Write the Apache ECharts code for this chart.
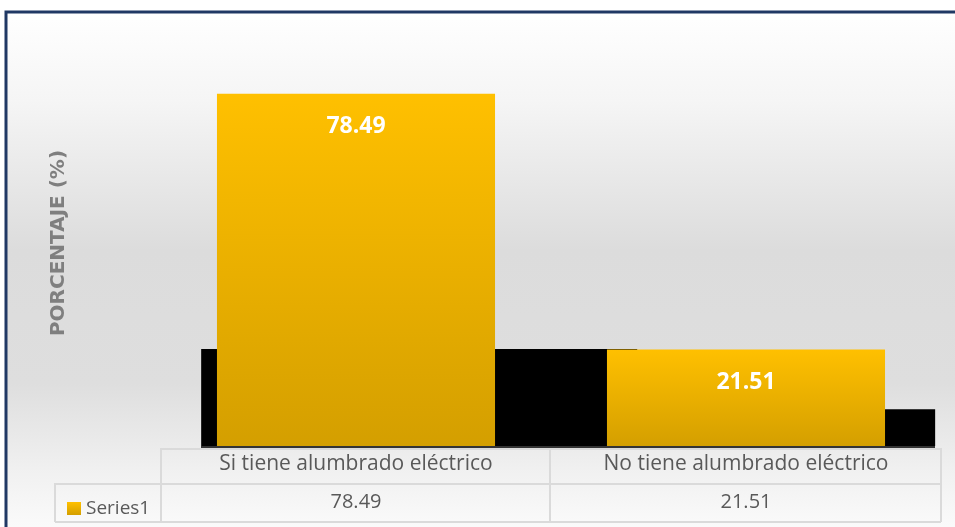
<!DOCTYPE html>
<html>
<head>
<meta charset="utf-8">
<script src="https://cdn.jsdelivr.net/npm/echarts@6/dist/echarts.min.js"></script>
<style>
  html, body { margin: 0; padding: 0; background: #fff; }
  #chart { width: 955px; height: 527px; }
</style>
</head>
<body>
<div id="chart"></div>
<script>
const categories = ['Si tiene alumbrado eléctrico', 'No tiene alumbrado eléctrico']
const values = [78.49, 21.51]
const seriesName = 'Series1'
const axisTitle = 'PORCENTAJE (%)'
// black depth blocks behind the bars: [start, end] in category units, height in %
const blockStart = [0.103, 1.854]
const blockEnd = [1.221, 1.985]
const blockHeight = [21.6, 8.2]

const fontFamily = '"Open Sans", Lato, sans-serif'
const tableColor = '#dadada'
const barGradient = new echarts.graphic.LinearGradient(0, 0, 0, 1, [
  { offset: 0, color: '#ffc000' },
  { offset: 1, color: '#d49f00' }
])

const chart = echarts.init(document.getElementById('chart'))

chart.setOption({
  animation: false,
  grid: { left: 161, right: 14, top: 87, bottom: 81 },
  legend: {
    data: [seriesName],
    left: 62,
    top: 494,
    icon: 'rect',
    itemWidth: 14,
    itemHeight: 13,
    itemGap: 6,
    textStyle: { color: '#595959', fontSize: 19, fontFamily }
  },
  xAxis: [{
    type: 'category',
    data: categories,
    axisLine: { show: false },
    axisTick: { show: false },
    axisLabel: { color: '#595959', fontSize: 21, fontFamily, margin: 8 }
  }, {
    type: 'category',
    position: 'bottom',
    offset: 38,
    data: values.map(v => v.toFixed(2)),
    axisLine: { show: false },
    axisTick: { show: false },
    axisLabel: { color: '#595959', fontSize: 20, fontFamily, margin: 8 }
  }, {
    type: 'value',
    min: 0,
    max: categories.length,
    show: false
  }],
  yAxis: {
    type: 'value',
    min: 0,
    max: 80,
    show: false
  },
  graphic: [{
    type: 'rect',
    z: -10,
    shape: { x: 6, y: 12, width: 1000, height: 530 },
    style: {
      fill: new echarts.graphic.LinearGradient(0, 0, 0, 1, [
        { offset: 0, color: '#ffffff' },
        { offset: 0.17, color: '#f5f5f5' },
        { offset: 0.45, color: '#dcdcdc' },
        { offset: 0.7, color: '#dedede' },
        { offset: 0.86, color: '#f0f0f0' },
        { offset: 1, color: '#fdfdfd' }
      ]),
      stroke: '#203864',
      lineWidth: 3
    }
  }, {
    type: 'text',
    x: 59,
    y: 243,
    rotation: Math.PI / 2,
    style: {
      text: axisTitle,
      fill: '#7f7f7f',
      font: 'bold 20px "DejaVu Sans", sans-serif',
      textAlign: 'center',
      textVerticalAlign: 'middle'
    }
  }, {
    type: 'line',
    z: 10,
    shape: { x1: 201, y1: 447, x2: 935, y2: 447 },
    style: { stroke: '#333', lineWidth: 2 }
  }, {
    type: 'polyline',
    z: 5,
    shape: { points: [[161, 522], [161, 449], [941, 449], [941, 522]] },
    style: { stroke: tableColor, lineWidth: 2, fill: null }
  }, {
    type: 'polyline',
    z: 5,
    shape: { points: [[55, 522], [55, 484], [941, 484]] },
    style: { stroke: tableColor, lineWidth: 2, fill: null }
  }, {
    type: 'line',
    z: 5,
    shape: { x1: 55, y1: 522, x2: 941, y2: 522 },
    style: { stroke: tableColor, lineWidth: 2 }
  }, {
    type: 'line',
    z: 5,
    shape: { x1: 550, y1: 449, x2: 550, y2: 522 },
    style: { stroke: tableColor, lineWidth: 2 }
  }],
  series: [{
    type: 'custom',
    xAxisIndex: 2,
    z: 1,
    silent: true,
    data: blockStart.map((s, i) => [s, blockEnd[i], blockHeight[i]]),
    renderItem(params, api) {
      const p0 = api.coord([api.value(0), api.value(2)])
      const p1 = api.coord([api.value(1), 0])
      return {
        type: 'rect',
        shape: { x: p0[0], y: p0[1], width: p1[0] - p0[0], height: p1[1] - p0[1] },
        style: { fill: '#000' }
      }
    }
  }, {
    name: seriesName,
    type: 'bar',
    z: 3,
    barWidth: '71.3%',
    data: values,
    itemStyle: { color: barGradient },
    label: {
      show: true,
      position: 'insideTop',
      distance: 21,
      color: '#fff',
      fontSize: 23,
      fontWeight: 'bold',
      fontFamily
    }
  }]
})
</script>
</body>
</html>
